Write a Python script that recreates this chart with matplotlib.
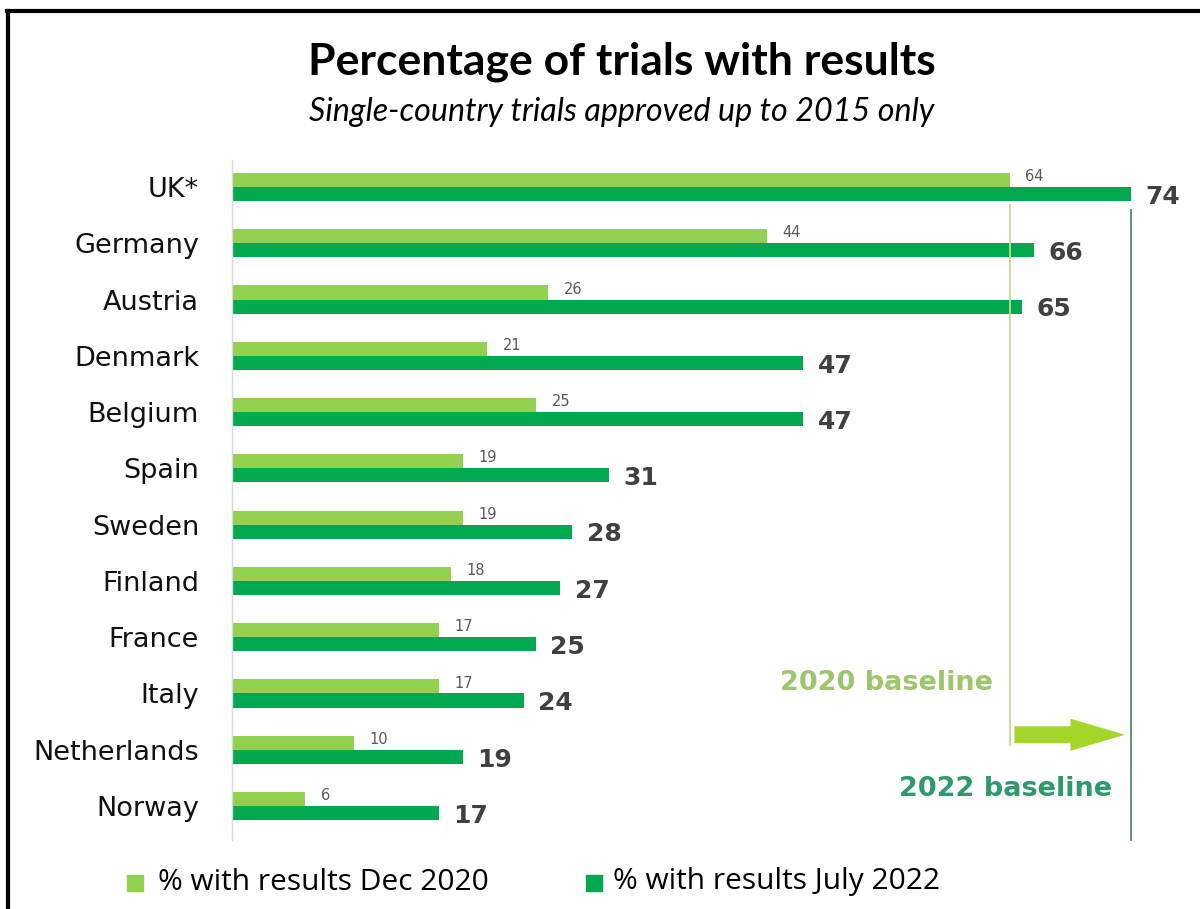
import matplotlib
matplotlib.use("Agg")
import matplotlib.pyplot as plt
from matplotlib.lines import Line2D

countries = ["UK*", "Germany", "Austria", "Denmark", "Belgium", "Spain",
             "Sweden", "Finland", "France", "Italy", "Netherlands", "Norway"]
dec_2020 = [64, 44, 26, 21, 25, 19, 19, 18, 17, 17, 10, 6]
jul_2022 = [74, 66, 65, 47, 47, 31, 28, 27, 25, 24, 19, 17]
series_labels = ["% with results Dec 2020", "% with results July 2022"]

LIGHT = "#92d050"
DARK = "#00a84f"

W, H = 1200, 909
fig = plt.figure(figsize=(W / 100, H / 100), dpi=100)

# axes geometry in pixels
ax_left, ax_right = 232, 1204
ax_top, ax_bot = 160, 840
ax = fig.add_axes([ax_left / W, 1 - ax_bot / H, (ax_right - ax_left) / W, (ax_bot - ax_top) / H])
row_px = 56.3
y_top = -(187 - ax_top) / row_px
y_bot = 11 + (ax_bot - 806) / row_px
ax.set_ylim(y_bot, y_top)
ax.set_xlim(0, (ax_right - ax_left) / 12.15)

ypos = list(range(len(countries)))
bh = 0.25
ax.barh([y - bh / 2 for y in ypos], dec_2020, height=bh, color=LIGHT, label=series_labels[0])
ax.barh([y + bh / 2 for y in ypos], jul_2022, height=bh, color=DARK, label=series_labels[1])

for y, v in zip(ypos, dec_2020):
    ax.text(v + 1.3, y - bh / 2 - 0.06, str(v), ha="left", va="center",
            fontsize=10.5, color="#595959", family="DejaVu Sans")
for y, v in zip(ypos, jul_2022):
    ax.text(v + 1.2, y + bh / 2 + 0.05, str(v), ha="left", va="center",
            fontsize=18, fontweight="bold", color="#404040", family="DejaVu Sans")

ax.set_yticks(ypos)
ax.set_yticklabels(countries, fontsize=19.5, color="#111111", family="DejaVu Sans")
ax.tick_params(axis="y", length=0, pad=(ax_left - 199) * 72 / 100)
ax.set_xticks([])
for s in ["top", "right", "bottom"]:
    ax.spines[s].set_visible(False)
ax.spines["left"].set_color("#d9d9d9")
ax.spines["left"].set_linewidth(1.0)

# baseline lines
ax.plot([dec_2020[0], dec_2020[0]], [(205 - 187) / row_px, (745 - 187) / row_px],
        color="#c5d98a", lw=1.3, clip_on=False)
ax.plot([jul_2022[0], jul_2022[0]], [(210 - 187) / row_px, (840 - 187) / row_px],
        color="#4f8a6a", lw=1.3, clip_on=False)

# arrow
ya = (735 - 187) / row_px
ax.annotate("", xy=(jul_2022[0] - 0.5, ya), xytext=(dec_2020[0] + 0.4, ya),
            arrowprops=dict(arrowstyle="simple,head_width=1.65,head_length=2.8,tail_width=0.87",
                            mutation_scale=14, color="#a3d629", lw=0, shrinkA=0, shrinkB=0))

ax.text(993 / 12.15 - 232 / 12.15, (683 - 187) / row_px, "2020 baseline", ha="right", va="center",
        fontsize=19.5, fontweight="bold", color="#9cc56c", family="DejaVu Sans")
ax.text(1112 / 12.15 - 232 / 12.15, (789 - 187) / row_px, "2022 baseline", ha="right", va="center",
        fontsize=19.5, fontweight="bold", color="#2e9a6c", family="DejaVu Sans")

# titles
fig.text(622 / W, 1 - 62 / H, "Percentage of trials with results", ha="center", va="center",
         fontsize=32, fontweight="bold", family="Lato", color="#000000")
fig.text(622 / W, 1 - 112 / H, "Single-country trials approved up to 2015 only", ha="center", va="center",
         fontsize=23.2, style="italic", family="Lato", color="#000000")

# legend: square markers + labels
for (color, label, xs, xt) in [(LIGHT, series_labels[0], 135, 158), (DARK, series_labels[1], 594, 613)]:
    fig.add_artist(Line2D([xs / W], [1 - 883 / H], marker="s", ls="", markersize=12,
                          color=color, transform=fig.transFigure))
    fig.text(xt / W, 1 - 882 / H, label, ha="left", va="center",
             fontsize=21.5, family="Open Sans", color="#000000")

# frame
fig.add_artist(Line2D([0.006, 1.0], [1 - 11 / H, 1 - 11 / H], color="black", lw=3, transform=fig.transFigure))
fig.add_artist(Line2D([8 / W, 8 / W], [0, 1 - 11 / H], color="black", lw=3, transform=fig.transFigure))

fig.savefig("out.png", dpi=100, facecolor="white")
